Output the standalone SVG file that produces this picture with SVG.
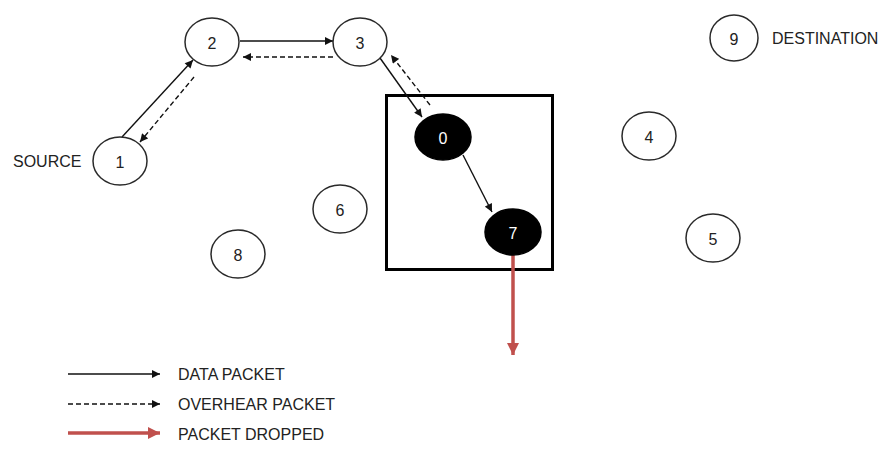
<svg xmlns="http://www.w3.org/2000/svg" width="892" height="459" viewBox="0 0 892 459">
<style>
.n ellipse{fill:#fff;stroke:#2a2a2a;stroke-width:1.5}
.n.b ellipse{fill:#000;stroke:#000}
.n text{font-family:"Liberation Sans",Arial,sans-serif;font-size:16px;fill:#222;text-anchor:middle;dominant-baseline:central}
.n.b text{fill:#fff}
.lbl{font-family:"Liberation Sans",Arial,sans-serif;font-size:16px;fill:#222}
.s{stroke:#111;stroke-width:1.4;fill:none;marker-end:url(#ah)}
.d{stroke:#111;stroke-width:1.4;fill:none;stroke-dasharray:5 3;marker-end:url(#ah)}
.r{stroke:#c0504d;stroke-width:3.5;fill:none;marker-end:url(#ahr)}
</style>
<defs>
<marker id="ah" viewBox="0 0 10 10" refX="10" refY="5" markerWidth="9" markerHeight="8" markerUnits="userSpaceOnUse" orient="auto"><path d="M0,0L10,5L0,10z" fill="#111"/></marker>
<marker id="ahr" viewBox="0 0 10 10" refX="10" refY="5" markerWidth="12" markerHeight="12" markerUnits="userSpaceOnUse" orient="auto"><path d="M0,0L10,5L0,10z" fill="#c0504d"/></marker>
</defs>
<rect width="892" height="459" fill="#fff"/>
<rect id="box" x="386.5" y="95.5" width="166" height="174" fill="none" stroke="#000" stroke-width="3"/>
<g id="connectors">
<line class="s" x1="122" y1="137" x2="193" y2="60"/>
<line class="d" x1="194" y1="77" x2="140" y2="142"/>
<line class="s" x1="240" y1="41" x2="333" y2="41"/>
<line class="d" x1="333" y1="57" x2="243" y2="57"/>
<line class="s" x1="380" y1="58" x2="422" y2="117"/>
<line class="d" x1="430" y1="105" x2="391" y2="55"/>
<line class="s" x1="463" y1="155" x2="492" y2="212"/>
<line class="r" x1="513" y1="255" x2="513" y2="355"/>
</g>
<g id="n1" class="n"><ellipse cx="120" cy="161" rx="27" ry="24"/><text x="120" y="162">1</text></g>
<g id="n2" class="n"><ellipse cx="212" cy="42" rx="27" ry="24"/><text x="212" y="43">2</text></g>
<g id="n3" class="n"><ellipse cx="360" cy="42" rx="27" ry="24"/><text x="360" y="43">3</text></g>
<g id="n0" class="n b"><ellipse cx="443" cy="137" rx="28" ry="23"/><text x="443" y="138">0</text></g>
<g id="n7" class="n b"><ellipse cx="513" cy="232" rx="28" ry="23"/><text x="513" y="233">7</text></g>
<g id="n4" class="n"><ellipse cx="649" cy="136" rx="27" ry="24"/><text x="649" y="137">4</text></g>
<g id="n5" class="n"><ellipse cx="713" cy="238" rx="27" ry="24"/><text x="713" y="239">5</text></g>
<g id="n6" class="n"><ellipse cx="340" cy="209" rx="27" ry="24"/><text x="340" y="210">6</text></g>
<g id="n8" class="n"><ellipse cx="238" cy="254" rx="27" ry="24"/><text x="238" y="255">8</text></g>
<g id="n9" class="n"><ellipse cx="734" cy="38" rx="24" ry="23"/><text x="734" y="39">9</text></g>
<text class="lbl" x="13" y="167">SOURCE</text>
<text class="lbl" x="772" y="44" font-size="17">DESTINATION</text>
<g id="legend">
<line class="s" x1="68" y1="374" x2="160" y2="374"/>
<text class="lbl" x="178" y="380">DATA PACKET</text>
<line class="d" x1="68" y1="404" x2="160" y2="404"/>
<text class="lbl" x="178" y="410">OVERHEAR PACKET</text>
<line class="r" x1="68" y1="433" x2="160" y2="433"/>
<text class="lbl" x="178" y="440">PACKET DROPPED</text>
</g>
</svg>
